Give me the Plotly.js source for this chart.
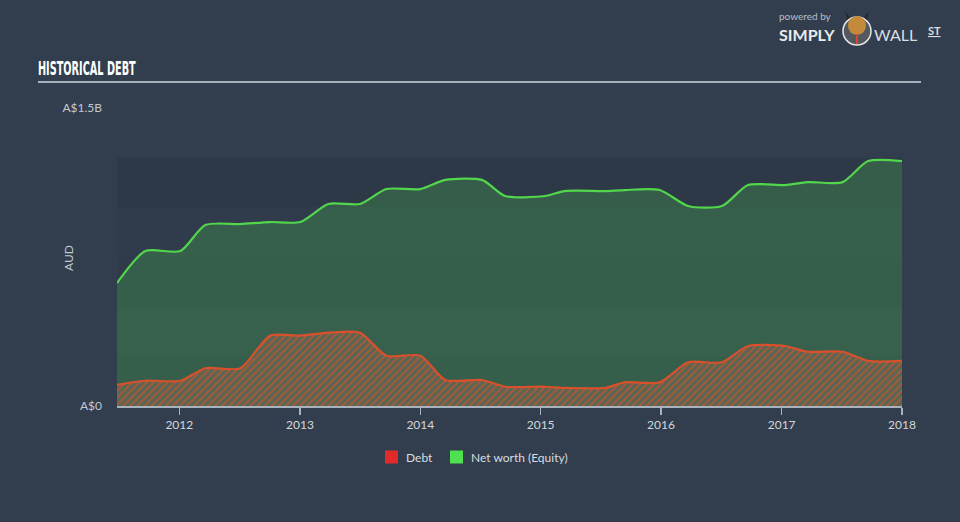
<!DOCTYPE html>
<html>
<head>
<meta charset="utf-8">
<script src="https://cdn.plot.ly/plotly-3.0.1.min.js"></script>
<style>
  html, body { margin: 0; padding: 0; background: #323e4e; }
  #chart { width: 960px; height: 522px; }
</style>
</head>
<body>
<div id="chart"></div>
<script>
// ---- data ----
const dates = [
  '2011-06-26', '2011-09-20', '2012-01-04', '2012-03-20', '2012-07-04',
  '2012-10-02', '2013-01-02', '2013-03-28', '2013-07-02', '2013-09-20',
  '2014-01-01', '2014-03-18', '2014-07-07', '2014-09-15', '2015-01-14',
  '2015-03-15', '2015-07-15', '2015-09-13', '2015-12-28', '2016-03-23',
  '2016-07-04', '2016-09-21', '2017-01-11', '2017-03-20', '2017-07-05',
  '2017-09-20', '2018-01-01'
];
const equity = [
  0.619, 0.780, 0.780, 0.911, 0.916,
  0.926, 0.926, 1.017, 1.017, 1.092,
  1.092, 1.138, 1.138, 1.057, 1.057,
  1.082, 1.082, 1.087, 1.087, 1.007,
  1.007, 1.112, 1.112, 1.127, 1.127,
  1.233, 1.233
].map(v => v * 1e9);
const debt = [
  0.106, 0.127, 0.127, 0.190, 0.190,
  0.354, 0.354, 0.369, 0.369, 0.253,
  0.253, 0.131, 0.131, 0.097, 0.097,
  0.091, 0.091, 0.119, 0.119, 0.220,
  0.220, 0.302, 0.302, 0.273, 0.273,
  0.227, 0.227
].map(v => v * 1e9);
const yTickVals = [0, 1.5e9];
const yTickText = ['A$0', 'A$1.5B'];
const bandEdges = [0, 0.25e9, 0.5e9, 0.75e9, 1.0e9, 1.25e9];
const seriesNames = ['Debt', 'Net worth (Equity)'];
const seriesColors = ['#e32929', '#4fe04f'];

// ---- layout helpers (pixel -> paper) ----
const L = 117, R = 902, T = 108, B = 406;
const px = x => (x - L) / (R - L);
const py = y => (B - y) / (B - T);

const traces = [
  {
    x: dates, y: equity, type: 'scatter', mode: 'lines', name: seriesNames[1],
    line: { color: '#52d64c', width: 2.2, shape: 'spline', smoothing: 0.7 },
    fill: 'tozeroy', fillcolor: 'rgba(70,180,80,0.30)',
    showlegend: false, hoverinfo: 'skip'
  },
  {
    x: dates, y: debt, type: 'scatter', mode: 'lines', name: seriesNames[0],
    line: { color: '#d9512c', width: 2.2, shape: 'spline', smoothing: 0.7 },
    fill: 'tozeroy', fillcolor: '#5a6655',
    fillpattern: { shape: '/', fgcolor: '#b5582f', bgcolor: '#5a6655', size: 5, solidity: 0.3 },
    showlegend: false, hoverinfo: 'skip'
  }
];

const bandColors = ['rgba(0,0,0,0.04)', 'rgba(0,0,0,0.015)', 'rgba(0,0,0,0.04)', 'rgba(0,0,0,0.035)', 'rgba(0,0,0,0.065)'];
const shapes = [];
for (let i = 0; i < bandEdges.length - 1; i++) {
  shapes.push({
    type: 'rect', layer: 'below', xref: 'paper', yref: 'y',
    x0: 0, x1: 1, y0: bandEdges[i], y1: bandEdges[i + 1],
    fillcolor: bandColors[i], line: { width: 0 }
  });
}
// title underline
shapes.push({
  type: 'line', xref: 'paper', yref: 'paper',
  x0: px(38), x1: px(921), y0: py(82), y1: py(82),
  line: { color: '#a9b2bb', width: 2 }
});
// logo bull badge
shapes.push({
  type: 'circle', xref: 'paper', yref: 'paper',
  x0: px(843), x1: px(871), y0: py(45), y1: py(17),
  fillcolor: '#54595f', line: { color: '#e6e6e6', width: 1.5 }
});
shapes.push({
  type: 'circle', xref: 'paper', yref: 'paper',
  x0: px(848), x1: px(866), y0: py(35), y1: py(16),
  fillcolor: '#c48a3c', line: { width: 0 }
});
shapes.push({
  type: 'path', xref: 'paper', yref: 'paper',
  path: `M ${px(847)} ${py(20)} L ${px(845)} ${py(11)} L ${px(850)} ${py(17)} Z M ${px(867)} ${py(20)} L ${px(869)} ${py(11)} L ${px(864)} ${py(17)} Z`,
  fillcolor: '#2a2a2a', line: { width: 0 }
});
shapes.push({
  type: 'rect', xref: 'paper', yref: 'paper',
  x0: px(856), x1: px(858), y0: py(44), y1: py(34),
  fillcolor: '#d9472b', line: { width: 0 }
});
// manual legend squares
const legendSq = [[385, 398], [450, 463]];
legendSq.forEach((s, i) => shapes.push({
  type: 'rect', xref: 'paper', yref: 'paper',
  x0: px(s[0]), x1: px(s[1]), y0: py(463.5), y1: py(450.5),
  fillcolor: seriesColors[i], line: { width: 0 }
}));

const ann = (text, x, y, size, color, extra) => Object.assign({
  text, xref: 'paper', yref: 'paper', x: px(x), y: py(y),
  xanchor: 'center', yanchor: 'middle', showarrow: false, borderpad: 0,
  font: { family: 'Lato, sans-serif', size, color }
}, extra || {});

const annotations = [
  ann('AUD', 68, 258, 12, '#c3c9cf', { textangle: -90 }),
  ann('powered by', 805, 16, 10, '#b9bfc6'),
  ann('<b>SIMPLY</b>', 807, 34, 16, '#e9ebed'),
  ann('WALL', 895, 34, 16, '#dadde0'),
  ann('<b><u>ST</u></b>', 934, 30, 11, '#dadde0'),
  ann(seriesNames[0], 405, 457, 12, '#d8dcdf', { xanchor: 'left' }),
  ann(seriesNames[1], 470, 457, 12, '#d8dcdf', { xanchor: 'left' })
];

const layout = {
  width: 960, height: 522,
  margin: { l: L, r: 960 - R, t: T, b: 522 - B },
  paper_bgcolor: '#323e4e',
  plot_bgcolor: 'rgba(0,0,0,0)',
  title: {
    text: 'HISTORICAL DEBT',
    xref: 'container', yref: 'container',
    x: 38 / 960, xanchor: 'left', y: 1 - 68 / 522, yanchor: 'middle',
    font: { family: '"DejaVu Sans Condensed", "DejaVu Sans", sans-serif', size: 19, color: '#ffffff', weight: 'bold' }
  },
  xaxis: {
    type: 'date',
    range: ['2011-06-26', '2018-01-01'],
    tick0: '2012-01-01', dtick: 'M12', tickformat: '%Y',
    ticks: 'outside', ticklen: 7, tickcolor: '#a9b3be', tickwidth: 1.5,
    showline: true, linecolor: '#a9b3be', linewidth: 1.5,
    showgrid: false, zeroline: false,
    tickfont: { family: 'Lato, sans-serif', size: 12, color: '#d3d7db' }
  },
  yaxis: {
    range: [0, 1.5e9],
    tickvals: yTickVals, ticktext: yTickText,
    ticks: '', ticklabelstandoff: 14,
    showline: false, showgrid: false, zeroline: false,
    tickfont: { family: 'Lato, sans-serif', size: 12, color: '#c3c9cf' }
  },
  showlegend: false,
  shapes: shapes,
  annotations: annotations
};

Plotly.newPlot('chart', traces, layout, { displayModeBar: false, staticPlot: true }).then(gd => {
  // condense the title horizontally to match the narrow display face
  const t = gd.querySelector('.gtitle');
  if (t) {
    const w = t.getBBox().width;
    const target = 98;
    if (w > 0) {
      const s = target / w;
      t.setAttribute('transform', `translate(38,0) scale(${s},1) translate(-38,0)`);
    }
  }
});
</script>
</body>
</html>
